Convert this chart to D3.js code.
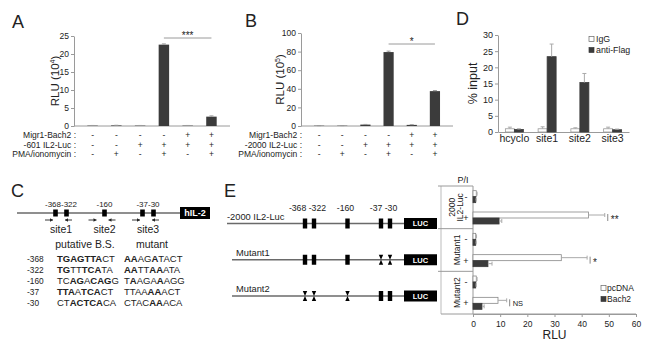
<!DOCTYPE html>
<html>
<head>
<meta charset="utf-8">
<script src="https://cdn.jsdelivr.net/npm/d3@7"></script>
<style>
  body { margin: 0; background: #fff; }
  svg text { font-family: "Liberation Sans", Arial, sans-serif; fill: #222; }
  svg text.inv { fill: #fff; }
</style>
</head>
<body>
<svg id="fig" width="652" height="350"></svg>
<script>
// ---- panel A / B : luciferase, 6 conditions ----
const aConds = ["Migr1-Bach2 :", "-601 IL2-Luc :", "PMA/ionomycin :"];
const bConds = ["Migr1-Bach2 :", "-2000 IL2-Luc :", "PMA/ionomycin :"];
const condSigns = [
  ["-", "-", "-", "-", "+", "+"],
  ["-", "-", "+", "+", "+", "+"],
  ["-", "+", "-", "+", "-", "+"]
];
const aValues = [0.1, 0.15, 0.1, 22.6, 0.1, 2.6];
const aErrors = [0.05, 0.05, 0.05, 0.2, 0.05, 0.2];
const aTicks = [0, 5, 10, 15, 20, 25];
const bValues = [0.3, 0.3, 1.5, 79.5, 1.2, 37.5];
const bErrors = [0.1, 0.1, 0.2, 1.0, 0.2, 0.6];
const bTicks = [0, 20, 40, 60, 80, 100];

// ---- panel D : ChIP ----
const dSites = ["hcyclo", "site1", "site2", "site3"];
const dSeries = ["IgG", "anti-Flag"];
const dIgG = [1.0, 1.0, 1.0, 1.0];
const dIgGErr = [0.5, 0.6, 0.3, 0.5];
const dFlag = [0.8, 23.3, 15.3, 0.7];
const dFlagErr = [0.2, 3.9, 2.8, 0.2];
const dTicks = [0, 5, 10, 15, 20, 25, 30];

// ---- panel C : promoter + sequences ----
const siteNames = ["site1", "site2", "site3"];
const cSiteLabels = ["-368-322", "-160", "-37-30"];
const promoterSites = [
  {pos: "-368", site: "site1", side: -1},
  {pos: "-322", site: "site1", side: 1},
  {pos: "-160", site: "site2", side: 0},
  {pos: "-37", site: "site3", side: -1},
  {pos: "-30", site: "site3", side: 1}
];
const seqRows = ["-368", "-322", "-160", "-37", "-30"];
const seqWild = ["[TGAGTTA]CT", "[TG]TT[TCA]TA", "TC[AG]A[CAG]G", "[TTA]A[TCA]CT", "CT[ACTCA]CA"];
const seqMut = ["[AA]AG[A]TACT", "[AA]TT[AA]ATA", "T[A]AGA[A]AGG", "TTAA[AA]ACT", "CTAC[AA]ACA"];

// ---- panel E : constructs + reporter ----
const constructs = ["-2000 IL2-Luc", "Mutant1", "Mutant2"];
const mutatedSites = [[], ["site3"], ["site1", "site2"]];
const eSiteLabels = ["-368 -322", "-160", "-37 -30"];
const eGroups = [["2000", "IL2-Luc"], ["Mutant1"], ["Mutant2"]];
const ePI = ["-", "+", "-", "+", "-", "+"];
const ePcDNA = [1.2, 42.5, 1.0, 32.5, 1.2, 9.2];
const ePcDNAErr = [0.3, 6.0, 0.3, 9.5, 0.3, 3.2];
const eBach2 = [1.0, 9.6, 1.0, 5.5, 1.0, 3.3];
const eBach2Err = [0.2, 1.0, 0.2, 1.5, 0.2, 0.8];
const eSig = ["", "**", "", "*", "", "NS"];
const eTicks = [0, 10, 20, 30, 40, 50, 60];

const svg = d3.select("#fig");
svg.append("rect").attr("width", 652).attr("height", 350).attr("fill", "#fff");

const DARK = "#3b3b3b", AXIS = "#9a9a9a", LINE = "#6a6a6a";

function styleAxis(g, fs) {
  g.select(".domain").attr("stroke", AXIS);
  g.selectAll(".tick line").attr("stroke", AXIS);
  g.selectAll(".tick text").style("font-size", fs + "px").style("font-family", '"Liberation Sans", Arial, sans-serif').attr("fill", "#333");
}

function letter(t, x, y) {
  svg.append("text").attr("x", x).attr("y", y).text(t).style("font-size", "18px");
}

// vertical bar panel used by A and B
function rluPanel(o) {
  const g = svg.append("g");
  const x = d3.scaleBand().domain(d3.range(o.values.length)).range([o.left, o.right]).padding(0.56);
  const y = d3.scaleLinear().domain([0, d3.max(o.ticks)]).range([o.base, o.top]);

  g.append("g").attr("transform", `translate(${o.left},0)`)
    .call(d3.axisLeft(y).tickValues(o.ticks).tickSize(3).tickSizeOuter(0).tickPadding(2))
    .call(a => styleAxis(a, 8.5));
  g.append("line").attr("x1", o.left).attr("x2", o.right).attr("y1", o.base).attr("y2", o.base).attr("stroke", AXIS);

  g.selectAll(".bar").data(o.values).join("rect")
    .attr("x", (d, i) => x(i)).attr("width", x.bandwidth())
    .attr("y", d => y(d)).attr("height", d => y(0) - y(d))
    .attr("fill", DARK);
  g.selectAll(".err").data(o.values).join("path")
    .attr("d", (d, i) => {
      const cx = x(i) + x.bandwidth() / 2, yt = y(d + o.errors[i]);
      return `M${cx},${y(d)}V${yt}M${cx - 2},${yt}H${cx + 2}`;
    })
    .attr("stroke", AXIS).attr("fill", "none");

  // significance bar between bar 4 and bar 6
  const s0 = x(3) + x.bandwidth() / 2, s1 = x(5) + x.bandwidth() / 2;
  g.append("line").attr("x1", s0).attr("x2", s1).attr("y1", o.sigY).attr("y2", o.sigY).attr("stroke", AXIS);
  g.append("text").attr("x", (s0 + s1) / 2).attr("y", o.sigY + 1).attr("text-anchor", "middle")
    .style("font-size", "10px").text(o.sig);

  // y title with superscript
  const t = g.append("text")
    .attr("transform", `translate(${o.titleX},${(o.base + o.top) / 2}) rotate(-90)`)
    .attr("text-anchor", "middle").style("font-size", "11.5px");
  t.append("tspan").text("RLU (10");
  t.append("tspan").text(o.exp).attr("dy", -4).style("font-size", "7px");
  t.append("tspan").text(")").attr("dy", 4);

  // condition table
  const ry = d3.scalePoint().domain(o.conds).range([138, 157]);
  g.selectAll(".cond").data(o.conds).join("text")
    .attr("x", o.labelX).attr("y", d => ry(d)).attr("text-anchor", "end")
    .style("font-size", "8.5px").text(d => d);
  condSigns.forEach((row, r) => {
    g.selectAll(null).data(row).join("text")
      .attr("x", (d, i) => x(i) + x.bandwidth() / 2).attr("y", ry(o.conds[r]))
      .attr("text-anchor", "middle").style("font-size", "8.5px").text(d => d);
  });
}

// ---- A ----
letter("A", 12, 28);
rluPanel({values: aValues, errors: aErrors, ticks: aTicks, conds: aConds, left: 74, right: 230,
  base: 126, top: 36, sigY: 38, sig: "***", exp: "4", titleX: 59, labelX: 76});

// ---- B ----
letter("B", 245, 27);
rluPanel({values: bValues, errors: bErrors, ticks: bTicks, conds: bConds, left: 301, right: 453,
  base: 126, top: 33, sigY: 44, sig: "*", exp: "5", titleX: 284, labelX: 302});

// ---- D ----
letter("D", 456, 25);
{
  const g = svg.append("g");
  const x = d3.scaleBand().domain(dSites).range([498, 629]).paddingInner(0.45).paddingOuter(0.225);
  const xs = d3.scaleBand().domain(dSeries).range([0, x.bandwidth()]);
  const y = d3.scaleLinear().domain([0, 30]).range([132, 35]);
  g.append("g").attr("transform", "translate(498,0)")
    .call(d3.axisLeft(y).tickValues(dTicks).tickSize(3).tickSizeOuter(0).tickPadding(2))
    .call(a => styleAxis(a, 9));
  g.append("g").attr("transform", "translate(0,132)")
    .call(d3.axisBottom(x).tickSize(0).tickSizeOuter(0).tickPadding(3))
    .call(a => styleAxis(a, 10.5));
  const rows = dSites.map((s, i) => ({s, v: [dIgG[i], dFlag[i]], e: [dIgGErr[i], dFlagErr[i]]}));
  rows.forEach(r => {
    dSeries.forEach((k, j) => {
      const bx = x(r.s) + xs(k);
      g.append("rect").attr("x", bx).attr("width", xs.bandwidth())
        .attr("y", y(r.v[j])).attr("height", y(0) - y(r.v[j]))
        .attr("fill", j ? DARK : "#fff").attr("stroke", j ? DARK : AXIS).attr("stroke-width", 0.8);
      const cx = bx + xs.bandwidth() / 2, yt = y(r.v[j] + r.e[j]);
      g.append("path").attr("d", `M${cx},${y(r.v[j])}V${yt}M${cx - 2},${yt}H${cx + 2}`)
        .attr("stroke", "#aaa").attr("fill", "none");
    });
  });
  g.append("text").attr("transform", `translate(477,${(132 + 35) / 2}) rotate(-90)`)
    .attr("text-anchor", "middle").style("font-size", "12.5px").text("% input");
  const ly = d3.scalePoint().domain(dSeries).range([39, 50]);
  dSeries.forEach((k, j) => {
    g.append("rect").attr("x", 589).attr("y", ly(k) - 2.5).attr("width", 5).attr("height", 5)
      .attr("fill", j ? DARK : "#fff").attr("stroke", j ? DARK : "#666").attr("stroke-width", 0.7);
    g.append("text").attr("x", 596).attr("y", ly(k) + 3).style("font-size", "8.8px").text(k);
  });
}

// ---- C ----
letter("C", 11, 197);
function arrow(g, x1, x2, y) {
  const dir = Math.sign(x2 - x1);
  g.append("line").attr("x1", x1).attr("x2", x2).attr("y1", y).attr("y2", y).attr("stroke", "#222").attr("stroke-width", 0.9);
  g.append("path").attr("d", `M${x2},${y}L${x2 - dir * 3},${y - 1.8}L${x2 - dir * 3},${y + 1.8}Z`).attr("fill", "#222");
}
function boldSeq(text, s) {
  s.split(/(\[[^\]]+\])/).filter(p => p).forEach(p => {
    const b = p.startsWith("[");
    text.append("tspan").text(b ? p.slice(1, -1) : p).style("font-weight", b ? "bold" : "normal");
  });
}
{
  const g = svg.append("g");
  const gx = d3.scalePoint().domain(siteNames).range([61, 148]);
  const ly = 213;
  g.append("line").attr("x1", 17).attr("x2", 180).attr("y1", ly).attr("y2", ly).attr("stroke", LINE).attr("stroke-width", 1.5);
  g.append("rect").attr("x", 180).attr("y", ly - 6).attr("width", 30).attr("height", 12).attr("fill", "#000");
  g.append("text").attr("class", "inv").attr("x", 195).attr("y", ly + 3.3).attr("text-anchor", "middle")
    .style("font-size", "9px").style("font-weight", "bold").text("hIL-2");
  promoterSites.forEach(s => {
    g.append("rect").attr("x", gx(s.site) + s.side * 5.5 - 2.3).attr("y", ly - 3.5).attr("width", 4.6).attr("height", 7).attr("fill", "#000");
  });
  siteNames.forEach((s, i) => {
    g.append("text").attr("x", gx(s)).attr("y", 207).attr("text-anchor", "middle").style("font-size", "8px").text(cSiteLabels[i]);
    g.append("text").attr("x", gx(s)).attr("y", 233).attr("text-anchor", "middle").style("font-size", "10.5px").text(s);
    arrow(g, gx(s) - 16, gx(s) - 8, 220);
    arrow(g, gx(s) + 11, gx(s) + 4, 220);
  });
  g.append("text").attr("x", 85).attr("y", 248).attr("text-anchor", "middle").style("font-size", "10.5px").text("putative B.S.");
  g.append("text").attr("x", 152).attr("y", 248).attr("text-anchor", "middle").style("font-size", "10.5px").text("mutant");
  const ry = d3.scalePoint().domain(seqRows).range([261.5, 305.5]);
  seqRows.forEach((r, i) => {
    g.append("text").attr("x", 27).attr("y", ry(r)).style("font-size", "8.3px").text(r);
    boldSeq(g.append("text").attr("x", 57).attr("y", ry(r)).style("font-size", "9.5px"), seqWild[i]);
    boldSeq(g.append("text").attr("x", 124).attr("y", ry(r)).style("font-size", "9.5px"), seqMut[i]);
  });
}

// ---- E constructs ----
letter("E", 224, 197);
{
  const g = svg.append("g");
  const gx = d3.scalePoint().domain(siteNames).range([309.5, 385.5]);
  const ry = d3.scalePoint().domain(constructs).range([223.5, 296]);
  const w = 4.4, h = 10;
  constructs.forEach((c, i) => {
    const y = ry(c);
    g.append("line").attr("x1", i ? 232 : 227).attr("x2", 404).attr("y1", y).attr("y2", y).attr("stroke", LINE).attr("stroke-width", 1.6);
    g.append("text").attr("x", i ? 236 : 227).attr("y", y - 4).style("font-size", "9.3px").text(c);
    g.append("rect").attr("x", 404).attr("y", y - 5.5).attr("width", 33).attr("height", 11).attr("fill", "#000");
    g.append("text").attr("class", "inv").attr("x", 420.5).attr("y", y + 2.8).attr("text-anchor", "middle")
      .style("font-size", "7.5px").style("font-weight", "bold").text("LUC");
    promoterSites.forEach(s => {
      const cx = gx(s.site) + s.side * 4.5;
      if (mutatedSites[i].includes(s.site)) {
        g.append("path")
          .attr("d", `M${cx - w / 2},${y - h / 2}H${cx + w / 2}L${cx},${y}Z M${cx - w / 2},${y + h / 2}H${cx + w / 2}L${cx},${y}Z`)
          .attr("fill", "#000");
      } else {
        g.append("rect").attr("x", cx - w / 2).attr("y", y - h / 2).attr("width", w).attr("height", h).attr("fill", "#000");
      }
    });
  });
  siteNames.forEach((s, i) => {
    g.append("text").attr("x", gx(s) - 2).attr("y", 211).attr("text-anchor", "middle").style("font-size", "8.7px").text(eSiteLabels[i]);
  });
}

// ---- E reporter bars ----
{
  const g = svg.append("g");
  const x = d3.scaleLinear().domain([0, 60]).range([473, 636]);
  const y = d3.scaleBand().domain(d3.range(ePI.length)).range([186, 314]);
  const bh = 6;
  const frameL = 441;
  g.append("text").attr("x", 463).attr("y", 183).attr("text-anchor", "middle").style("font-size", "9px").text("P/I");
  // frame
  g.append("line").attr("x1", frameL).attr("x2", frameL).attr("y1", 186).attr("y2", 314).attr("stroke", "#bbb");
  g.append("line").attr("x1", x(0)).attr("x2", x(0)).attr("y1", 186).attr("y2", 314).attr("stroke", AXIS);
  [0, 2, 4].forEach(k => {
    g.append("line").attr("x1", frameL - 3).attr("x2", x(0)).attr("y1", y(k)).attr("y2", y(k)).attr("stroke", AXIS);
  });
  g.append("line").attr("x1", frameL).attr("x2", x(60)).attr("y1", 314).attr("y2", 314).attr("stroke", AXIS);
  g.append("g").attr("transform", "translate(0,314)")
    .call(d3.axisBottom(x).tickValues(eTicks).tickSize(3).tickSizeOuter(0).tickPadding(4))
    .call(a => styleAxis(a, 8.5));
  g.append("text").attr("x", (x(0) + x(60)) / 2).attr("y", 339).attr("text-anchor", "middle").style("font-size", "12px").text("RLU");

  eGroups.forEach((lines, k) => {
    const cy = y(2 * k) + y.step();
    const t = g.append("text").attr("transform", `translate(${lines.length > 1 ? 455 : 460},${cy}) rotate(-90)`)
      .attr("text-anchor", "middle").style("font-size", "8.5px");
    lines.forEach((l, j) => t.append("tspan").attr("x", 0).attr("dy", j ? 7.5 : 0).text(l));
  });

  ePI.forEach((p, i) => {
    const cy = y(i) + y.bandwidth() / 2;
    g.append("text").attr("x", 466).attr("y", cy + 3).attr("text-anchor", "middle").style("font-size", "9px").text(p);
    // pcDNA (white) above, Bach2 (dark) below
    [[ePcDNA[i], ePcDNAErr[i], cy - bh, "#fff"], [eBach2[i], eBach2Err[i], cy, DARK]].forEach(([v, e, by, f]) => {
      g.append("rect").attr("x", x(0)).attr("y", by).attr("width", x(v) - x(0)).attr("height", bh)
        .attr("fill", f).attr("stroke", f === "#fff" ? "#888" : DARK).attr("stroke-width", 0.8);
      const ey = by + bh / 2;
      g.append("path").attr("d", `M${x(v)},${ey}H${x(v + e)}M${x(v + e)},${ey - 2}V${ey + 2}`)
        .attr("stroke", "#aaa").attr("fill", "none");
    });
    if (eSig[i]) {
      const sx = x(ePcDNA[i] + ePcDNAErr[i]) + 3;
      g.append("line").attr("x1", sx).attr("x2", sx).attr("y1", cy - 4).attr("y2", cy + 3).attr("stroke", "#888");
      g.append("text").attr("x", sx + 3).attr("y", eSig[i] === "NS" ? cy + 3 : cy + 5)
        .style("font-size", eSig[i] === "NS" ? "7.5px" : "10px").text(eSig[i]);
    }
  });

  const lg = d3.scalePoint().domain(["pcDNA", "Bach2"]).range([288, 299]);
  ["pcDNA", "Bach2"].forEach((k, j) => {
    g.append("rect").attr("x", 601).attr("y", lg(k) - 2.5).attr("width", 5).attr("height", 5)
      .attr("fill", j ? DARK : "#fff").attr("stroke", j ? DARK : "#666").attr("stroke-width", 0.7);
    g.append("text").attr("x", 607).attr("y", lg(k) + 3).style("font-size", "8.5px").text(k);
  });
}
</script>
</body>
</html>
